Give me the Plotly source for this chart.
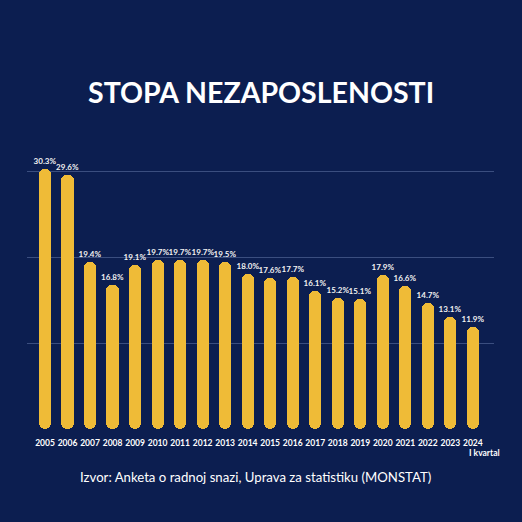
import plotly.graph_objects as go

years = ["2005", "2006", "2007", "2008", "2009", "2010", "2011", "2012", "2013", "2014",
         "2015", "2016", "2017", "2018", "2019", "2020", "2021", "2022", "2023", "2024"]
rates = [30.3, 29.6, 19.4, 16.8, 19.1, 19.7, 19.7, 19.7, 19.5, 18.0,
         17.6, 17.7, 16.1, 15.2, 15.1, 17.9, 16.6, 14.7, 13.1, 11.9]
labels = [f"{v:.1f}%" for v in rates]
title = "STOPA NEZAPOSLENOSTI"
source = "Izvor: Anketa o radnoj snazi, Uprava za statistiku (MONSTAT)"
note_2024 = "I kvartal"

BG = "#0c1e50"
BAR = "#efbb37"
W, H = 522, 522
Y_MAX = 32.0

xs = list(range(len(years)))

fig = go.Figure()
# explicit base -> plotly rounds both ends of each bar
fig.add_trace(go.Bar(x=xs, y=rates, base=0, width=0.54,
                     marker=dict(color=BAR, line=dict(width=0), cornerradius=6),
                     text=labels, textposition="outside", constraintext="none",
                     textfont=dict(family="Lato", size=8, color="#f2f2f2", weight="bold"),
                     cliponaxis=False, hoverinfo="skip"))

fig.update_layout(
    width=W, height=H, margin=dict(l=0, r=0, t=0, b=0),
    paper_bgcolor=BG, plot_bgcolor=BG, showlegend=False,
    bargap=0,
    xaxis=dict(domain=[27 / W, 494 / W], range=[-0.8, 19.94],
               tickmode="array", tickvals=xs, ticktext=years,
               tickfont=dict(family="Lato", size=8.5, color="white", weight="bold"),
               showgrid=False, zeroline=False, ticks="", showline=False,
               ticklabelstandoff=7),
    yaxis=dict(domain=[(H - 429) / H, (H - 153.8) / H], range=[0, Y_MAX],
               tickvals=[0, 10, 20, 30], showticklabels=False,
               showgrid=True, gridcolor="rgba(150,170,215,0.35)", gridwidth=1,
               zeroline=False, showline=False),
    annotations=[
        dict(text=f"<b>{title}</b>", x=0.5, y=(H - 92) / H, xref="paper", yref="paper",
             showarrow=False, font=dict(family="Lato", size=28.5, color="white"),
             xanchor="center", yanchor="middle"),
        dict(text=f"<b>{note_2024}</b>", x=19, y=(H - 453) / H, xref="x", yref="paper",
             xshift=12, showarrow=False,
             font=dict(family="Lato", size=8.5, color="white"),
             xanchor="center", yanchor="middle"),
        dict(text=source, x=255 / W, y=(H - 477) / H, xref="paper", yref="paper",
             showarrow=False, font=dict(family="Lato", size=13.2, color="white"),
             xanchor="center", yanchor="middle"),
    ],
)

fig.write_html("out.html", config={"displayModeBar": False},
               post_script="document.body.style.margin='0';document.body.style.background='" + BG + "';")
